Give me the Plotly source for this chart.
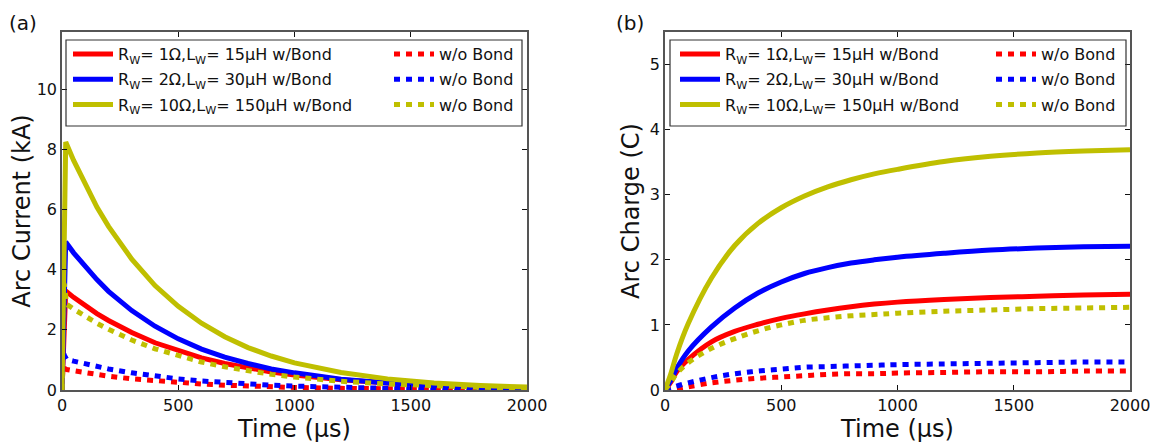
import plotly.graph_objects as go

# ---------------- data ----------------
# Panel (a): arc current (kA) vs time (us)
t_cur_bond = [0, 16, 50, 100, 150, 200, 300, 400, 500, 600, 700, 800, 900, 1000, 1200, 1400, 1600, 1800, 2000]
i_red_bond = [0, 3.29, 3.08, 2.80, 2.54, 2.31, 1.91, 1.57, 1.30, 1.07, 0.88, 0.73, 0.60, 0.50, 0.34, 0.23, 0.16, 0.11, 0.072]
i_blue_bond = [0, 4.92, 4.56, 4.09, 3.67, 3.28, 2.64, 2.12, 1.70, 1.36, 1.09, 0.88, 0.70, 0.57, 0.36, 0.23, 0.15, 0.097, 0.063]
i_yel_bond = [0, 8.24, 7.63, 6.81, 6.08, 5.44, 4.35, 3.47, 2.78, 2.22, 1.77, 1.41, 1.13, 0.90, 0.58, 0.37, 0.23, 0.15, 0.096]

t_cur_nobond = [0, 4, 10, 20, 50, 100, 150, 200, 300, 400, 500, 600, 700, 800, 900, 1000, 1200, 1400, 1600, 1800, 2000]
i_red_nobond = [0, 0.75, 0.72, 0.68, 0.64, 0.57, 0.51, 0.46, 0.37, 0.30, 0.24, 0.20, 0.16, 0.13, 0.10, 0.085, 0.055, 0.036, 0.023, 0.015, 0.010]
i_blue_nobond = [0, 1.40, 1.15, 1.02, 0.96, 0.86, 0.78, 0.70, 0.57, 0.46, 0.37, 0.30, 0.24, 0.19, 0.16, 0.13, 0.083, 0.054, 0.035, 0.023, 0.015]
i_yel_nobond = [0, 3.60, 3.50, 2.85, 2.69, 2.44, 2.22, 2.02, 1.66, 1.37, 1.13, 0.93, 0.77, 0.64, 0.52, 0.43, 0.29, 0.20, 0.14, 0.092, 0.063]

# Panel (b): arc charge (C) vs time (us)
t_q = [0, 25, 50, 100, 200, 300, 400, 500, 600, 700, 800, 900, 1000, 1200, 1400, 1600, 1800, 2000]
q_red_bond = [0, 0.12, 0.28, 0.47, 0.74, 0.90, 1.01, 1.10, 1.17, 1.23, 1.28, 1.32, 1.35, 1.39, 1.42, 1.44, 1.46, 1.47]
q_blue_bond = [0, 0.15, 0.33, 0.60, 0.97, 1.26, 1.49, 1.66, 1.79, 1.88, 1.95, 2.00, 2.04, 2.10, 2.15, 2.18, 2.20, 2.21]
q_yel_bond = [0, 0.25, 0.55, 1.02, 1.72, 2.22, 2.56, 2.80, 2.98, 3.12, 3.23, 3.32, 3.39, 3.51, 3.59, 3.64, 3.67, 3.69]
q_red_nobond = [0, 0.01, 0.02, 0.05, 0.11, 0.15, 0.18, 0.20, 0.22, 0.24, 0.25, 0.25, 0.26, 0.27, 0.28, 0.28, 0.29, 0.29]
q_blue_nobond = [0, 0.03, 0.06, 0.11, 0.19, 0.25, 0.29, 0.32, 0.35, 0.36, 0.37, 0.38, 0.39, 0.40, 0.41, 0.42, 0.43, 0.43]
q_yel_nobond = [0, 0.12, 0.25, 0.42, 0.64, 0.79, 0.91, 1.00, 1.07, 1.11, 1.14, 1.16, 1.18, 1.21, 1.23, 1.25, 1.26, 1.27]

labels_bond = [
    "R<sub>W</sub>= 1\u03a9,L<sub>W</sub>= 15\u03bcH w/Bond",
    "R<sub>W</sub>= 2\u03a9,L<sub>W</sub>= 30\u03bcH w/Bond",
    "R<sub>W</sub>= 10\u03a9,L<sub>W</sub>= 150\u03bcH w/Bond",
]
label_nobond = "w/o Bond"
colors = ["#ff0000", "#0000ff", "#bfbf00"]

x_ticks = [0, 500, 1000, 1500, 2000]
ya_ticks = [0, 2, 4, 6, 8, 10]
yb_ticks = [0, 1, 2, 3, 4, 5]

# ---------------- figure ----------------
# The page body has an 8 px margin, so the figure is laid out 8 px up/left.
OFF = 8
W, H = 1159, 446
PL, PR, PT, PB = 62, 1130, 32, 390          # plot area in screen pixels
ML, MT = PL - OFF, PT - OFF
MR, MB = W - (PR - OFF), H - (PB - OFF)
PW, PH = W - ML - MR, H - MT - MB


def px(xs):
    return (xs - PL) / PW


def py(ys):
    return (PB - ys) / PH


fig = go.Figure()
LW = 5
DOT = "6px,6px"

cur_bond = [i_red_bond, i_blue_bond, i_yel_bond]
cur_nob = [i_red_nobond, i_blue_nobond, i_yel_nobond]
q_bond = [q_red_bond, q_blue_bond, q_yel_bond]
q_nob = [q_red_nobond, q_blue_nobond, q_yel_nobond]

for k in range(3):
    fig.add_trace(go.Scatter(x=t_cur_bond, y=cur_bond[k], mode="lines", name=labels_bond[k],
                             legendgroup="a1_%d" % k,
                             line=dict(color=colors[k], width=LW), xaxis="x", yaxis="y", legend="legend"))
    fig.add_trace(go.Scatter(x=t_cur_nobond, y=cur_nob[k], mode="lines", name=label_nobond,
                             legendgroup="a2_%d" % k,
                             line=dict(color=colors[k], width=LW, dash=DOT), xaxis="x", yaxis="y", legend="legend2"))
for k in range(3):
    fig.add_trace(go.Scatter(x=t_q, y=q_bond[k], mode="lines", name=labels_bond[k],
                             legendgroup="b1_%d" % k,
                             line=dict(color=colors[k], width=LW, shape="spline", smoothing=1.0),
                             xaxis="x2", yaxis="y2", legend="legend3"))
    fig.add_trace(go.Scatter(x=t_q, y=q_nob[k], mode="lines", name=label_nobond,
                             legendgroup="b2_%d" % k,
                             line=dict(color=colors[k], width=LW, dash=DOT, shape="spline", smoothing=1.0),
                             xaxis="x2", yaxis="y2", legend="legend4"))

FONT = "DejaVu Sans"
axis_common = dict(showline=True, linecolor="#555555", linewidth=1.5, mirror="ticks",
                   ticks="inside", ticklen=5, tickwidth=1, tickcolor="#111111",
                   showgrid=False, zeroline=False, automargin=False,
                   tickfont=dict(family=FONT, size=16, color="#111111"))
title_font = dict(family=FONT, size=24, color="#111111")

xa_dom = [0, px(527)]
xb_dom = [px(665), 1]

fig.update_layout(
    width=W, height=H,
    margin=dict(l=ML, r=MR, t=MT, b=MB, autoexpand=False),
    paper_bgcolor="white", plot_bgcolor="white",
    xaxis=dict(domain=xa_dom, range=[0, 2000], tickvals=x_ticks, anchor="y",
               title=dict(text="Time (\u03bcs)", font=title_font, standoff=2), **axis_common),
    yaxis=dict(domain=[0, 1], range=[0, 11.9], tickvals=ya_ticks, anchor="x",
               title=dict(text="Arc Current (kA)", font=title_font, standoff=3), **axis_common),
    xaxis2=dict(domain=xb_dom, range=[0, 2000], tickvals=x_ticks, anchor="y2",
                title=dict(text="Time (\u03bcs)", font=title_font, standoff=2), **axis_common),
    yaxis2=dict(domain=[0, 1], range=[0, 5.5], tickvals=yb_ticks, anchor="x2",
                title=dict(text="Arc Charge (C)", font=title_font, standoff=3), **axis_common),
    showlegend=True,
)

leg_common = dict(xanchor="left", yanchor="top", bgcolor="rgba(0,0,0,0)", borderwidth=0,
                  font=dict(family=FONT, size=16, color="#111111"), tracegroupgap=1.5,
                  itemwidth=40, traceorder="grouped", orientation="v",
                  itemclick=False, itemdoubleclick=False)
fig.update_layout(
    legend=dict(x=px(68), y=py(37), **leg_common),
    legend2=dict(x=px(389), y=py(37), **leg_common),
    legend3=dict(x=px(675), y=py(37), **leg_common),
    legend4=dict(x=px(991), y=py(37), **leg_common),
)

# legend frames
for x0, x1 in [(66, 522), (670, 1126)]:
    fig.add_shape(type="rect", xref="paper", yref="paper",
                  x0=px(x0), x1=px(x1), y0=py(126), y1=py(40),
                  line=dict(color="#333333", width=1.2), fillcolor="rgba(0,0,0,0)", layer="above")

for txt, xs in [("(a)", 23), ("(b)", 630)]:
    fig.add_annotation(text=txt, xref="paper", yref="paper", x=px(xs), y=py(9),
                       xanchor="center", yanchor="top", showarrow=False,
                       font=dict(family=FONT, size=20, color="#111111"))

fig.write_html("out.html")
